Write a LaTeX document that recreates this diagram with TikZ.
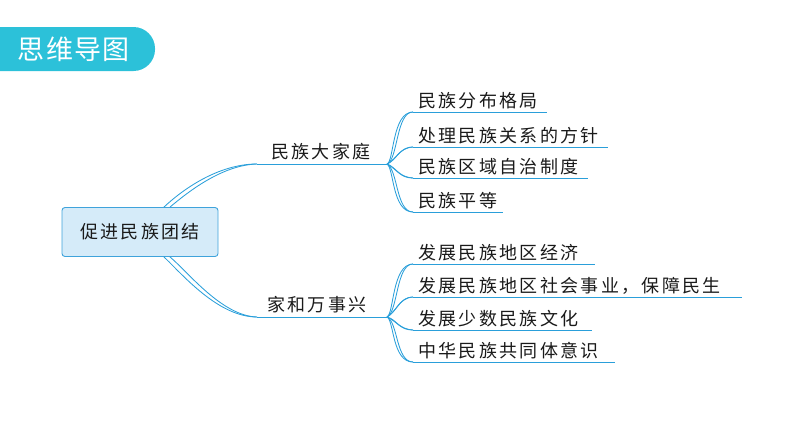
\documentclass[tikz,border=0pt]{standalone}
\usepackage{fontspec}
\newfontfamily\cjk[LetterSpace=13]{Noto Sans CJK SC}
\newfontfamily\cjkt[LetterSpace=5]{Noto Sans CJK SC}
\definecolor{banner}{HTML}{2CC1D9}
\definecolor{lineblue}{HTML}{2A9FDA}
\definecolor{boxfill}{HTML}{D5EBF9}
\definecolor{boxline}{HTML}{3FA3DB}
\definecolor{txt}{HTML}{1A1A1A}
\begin{document}
\begin{tikzpicture}[x=1pt,y=-1pt,
  leaf/.style={anchor=base west,inner sep=0pt,font=\cjk\fontsize{18}{20}\selectfont,text=txt},
  branchtxt/.style={anchor=base west,inner sep=0pt,font=\cjk\fontsize{18}{20}\selectfont,text=txt},
  conn/.style={draw=lineblue,line width=0.85pt},
  uline/.style={draw=lineblue,line width=1pt}]
\useasboundingbox (0,0) rectangle (794,447);
% banner
\fill[banner,rounded corners=21.5pt] (-40,27) -- (155,27) -- (155,71) -- (-40,71) -- cycle;
\node[font=\cjkt\fontsize{27}{29}\selectfont,text=white,inner sep=0pt] (title) at (74,49) {思维导图};
% main node
\node[draw=boxline,fill=boxfill,rounded corners=3pt,line width=0.9pt,minimum width=156pt,minimum height=49pt,inner sep=0pt,font=\cjk\fontsize{18}{20}\selectfont,text=txt] (m) at (140,232) {促进民族团结};
% branches
\coordinate (b1s) at (257,164); \coordinate (b1e) at (387,164);
\coordinate (b2s) at (257,317); \coordinate (b2e) at (387,317);
\node[branchtxt] (b1) at (271,158) {民族大家庭};
\node[branchtxt] (b2) at (267,311) {家和万事兴};
\draw[conn] ([xshift=24pt]m.north) .. controls (182,190) and (218,164) .. (b1s);
\draw[conn] ([xshift=30pt]m.north) .. controls (188,192) and (222,165) .. (b1s);
\draw[conn] ([xshift=24pt]m.south) .. controls (182,274) and (218,317) .. (b2s);
\draw[conn] ([xshift=30pt]m.south) .. controls (188,272) and (222,316) .. (b2s);
\draw[uline] (b1s) -- (b1e);
\draw[uline] (b2s) -- (b2e);
% upper leaves
\foreach \i/\y/\xe/\t in {1/112/547/民族分布格局,2/147/608/处理民族关系的方针,3/178/588/民族区域自治制度,4/212/503/民族平等}{
  \coordinate (us\i) at (413,\y);
  \coordinate (ue\i) at (\xe,\y);
  \node[leaf] (u\i) at (418,\y-5) {\t};
  \draw[uline] (us\i) -- (ue\i);
}
\draw[conn] (b1e) .. controls (398,160) and (396,112) .. (us1);
\draw[conn] (b1e) .. controls (394,162) and (392,112) .. (us1);
\draw[conn] (b1e) .. controls (398,158) and (400,147) .. (us2);
\draw[conn] (b1e) .. controls (396,161) and (398,148) .. (us2);
\draw[conn] (b1e) .. controls (398,170) and (400,178) .. (us3);
\draw[conn] (b1e) .. controls (396,167) and (398,177) .. (us3);
\draw[conn] (b1e) .. controls (398,170) and (396,212) .. (us4);
\draw[conn] (b1e) .. controls (394,168) and (392,212) .. (us4);
% lower leaves
\foreach \i/\y/\xe/\t in {1/264/595/发展民族地区经济,2/297/742/发展民族地区社会事业，保障民生,3/330/592/发展少数民族文化,4/362/615/中华民族共同体意识}{
  \coordinate (ds\i) at (413,\y);
  \coordinate (de\i) at (\xe,\y);
  \node[leaf] (d\i) at (418,\y-5) {\t};
  \draw[uline] (ds\i) -- (de\i);
}
\draw[conn] (b2e) .. controls (398,312) and (396,264) .. (ds1);
\draw[conn] (b2e) .. controls (394,314) and (392,264) .. (ds1);
\draw[conn] (b2e) .. controls (398,310) and (400,297) .. (ds2);
\draw[conn] (b2e) .. controls (396,313) and (398,298) .. (ds2);
\draw[conn] (b2e) .. controls (398,322) and (400,330) .. (ds3);
\draw[conn] (b2e) .. controls (396,319) and (398,329) .. (ds3);
\draw[conn] (b2e) .. controls (398,322) and (396,362) .. (ds4);
\draw[conn] (b2e) .. controls (394,320) and (392,362) .. (ds4);
\end{tikzpicture}
\end{document}
